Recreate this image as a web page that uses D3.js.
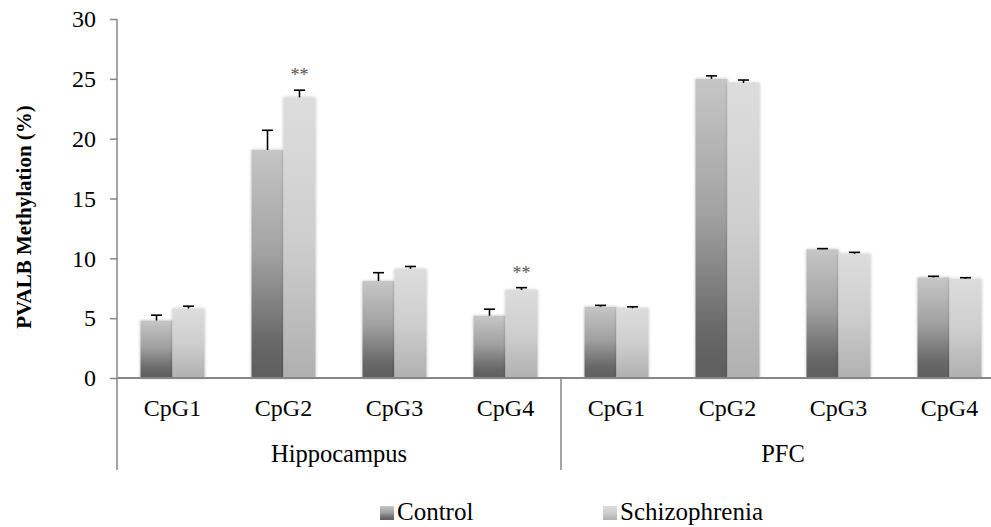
<!DOCTYPE html>
<html>
<head>
<meta charset="utf-8">
<script src="https://cdn.jsdelivr.net/npm/d3@7"></script>
<style>
  html, body { margin: 0; padding: 0; background: #fff; }
  svg { display: block; font-family: 'Liberation Serif', serif; }
  svg text { font-family: 'Liberation Serif', serif !important; fill: #000; }
</style>
</head>
<body>
<svg id="chart" width="991" height="527"></svg>
<script>
// ---- data ----
const groups = ["Hippocampus", "PFC"];
const sites = ["CpG1", "CpG2", "CpG3", "CpG4"];
const series = ["Control", "Schizophrenia"];
const controlValues = [4.8, 19.05, 8.1, 5.2, 5.95, 25.0, 10.75, 8.4];
const controlErrors = [0.45, 1.65, 0.7, 0.55, 0.12, 0.25, 0.06, 0.1];
const schizoValues = [5.8, 23.45, 9.12, 7.35, 5.83, 24.65, 10.38, 8.28];
const schizoErrors = [0.2, 0.6, 0.2, 0.2, 0.12, 0.25, 0.12, 0.1];
const schizoSig = ["", "**", "", "**", "", "", "", ""];
const yTicks = [0, 5, 10, 15, 20, 25, 30];
const yTitle = "PVALB Methylation (%)";

(function () {
// ---- layout ----
const svg = d3.select("#chart");
const mLeft = 117, mRight = 1005, mTop = 19, mBottom = 378;
const axisColor = "#868686";
const FONT = "'Liberation Serif', serif";

const cats = [];
groups.forEach(g => sites.forEach(s => cats.push({ group: g, site: s, id: g + "-" + s })));

const x0 = d3.scaleBand().domain(cats.map(c => c.id)).range([mLeft, mRight])
  .paddingInner(0.4234).paddingOuter(0.2117);
const x1 = d3.scaleBand().domain(series).range([0, x0.bandwidth()]);
const y = d3.scaleLinear().domain([0, 30]).range([mBottom, mTop]);

// defs: gradients + shadow
const defs = svg.append("defs");
function grad(id, stops) {
  const g = defs.append("linearGradient").attr("id", id)
    .attr("x1", 0).attr("y1", 0).attr("x2", 0).attr("y2", 1);
  stops.forEach(s => g.append("stop").attr("offset", s[0]).attr("stop-color", s[1]));
}
grad("gControl", [[0, "#c6c6c6"], [0.45, "#a2a2a2"], [0.85, "#676767"], [1, "#5e5e5e"]]);
grad("gSchizo", [[0, "#dddddd"], [0.5, "#cecece"], [1, "#b0b0b0"]]);
const f = defs.append("filter").attr("id", "shadow")
  .attr("x", "-20%").attr("y", "-5%").attr("width", "140%").attr("height", "110%");
f.append("feDropShadow").attr("dx", 0).attr("dy", 0).attr("stdDeviation", 1.6)
  .attr("flood-color", "#000").attr("flood-opacity", 0.28);

const fills = { "Control": "url(#gControl)", "Schizophrenia": "url(#gSchizo)" };

// rows
const rows = [];
cats.forEach((c, i) => {
  rows.push({ cat: c.id, s: "Control", v: controlValues[i], e: controlErrors[i], sig: "" });
  rows.push({ cat: c.id, s: "Schizophrenia", v: schizoValues[i], e: schizoErrors[i], sig: schizoSig[i] });
});

// bars
svg.append("g").selectAll("rect").data(rows).join("rect")
  .attr("x", d => x0(d.cat) + x1(d.s))
  .attr("y", d => y(d.v))
  .attr("width", x1.bandwidth())
  .attr("height", d => y(0) - y(d.v))
  .attr("fill", d => fills[d.s])
  .attr("filter", "url(#shadow)");

// error bars (upper only)
const eg = svg.append("g").attr("stroke", "#000").attr("stroke-width", 1.6);
rows.forEach(d => {
  const cx = x0(d.cat) + x1(d.s) + x1.bandwidth() / 2;
  eg.append("line").attr("x1", cx).attr("x2", cx).attr("y1", y(d.v)).attr("y2", y(d.v + d.e));
  eg.append("line").attr("x1", cx - 5.5).attr("x2", cx + 5.5).attr("y1", y(d.v + d.e)).attr("y2", y(d.v + d.e));
});

// significance marks
svg.append("g").selectAll("text").data(rows.filter(d => d.sig)).join("text")
  .attr("x", d => x0(d.cat) + x1(d.s) + x1.bandwidth() / 2)
  .attr("y", d => y(d.v + d.e) - 9)
  .attr("text-anchor", "middle")
  .attr("font-size", 18)
  .style("fill", "#555")
  .text(d => d.sig);

// y axis
const yAxis = svg.append("g").attr("transform", `translate(${mLeft},0)`)
  .call(d3.axisLeft(y).tickValues(yTicks).tickSize(7).tickPadding(14).tickFormat(d3.format("d")));
yAxis.attr("font-family", FONT).attr("font-size", 24);
yAxis.select(".domain").remove();
yAxis.selectAll("line").attr("stroke", axisColor).attr("stroke-width", 1.5);
yAxis.selectAll("text").attr("fill", "#000");
svg.append("line").attr("x1", mLeft).attr("x2", mLeft).attr("y1", y(30)).attr("y2", 470)
  .attr("stroke", axisColor).attr("stroke-width", 1.5);

// x axis baseline
svg.append("line").attr("x1", mLeft).attr("x2", mRight).attr("y1", y(0)).attr("y2", y(0))
  .attr("stroke", axisColor).attr("stroke-width", 2);

// category labels
svg.append("g").selectAll("text").data(cats).join("text")
  .attr("x", d => x0(d.id) + x0.bandwidth() / 2)
  .attr("y", mBottom + 37.5)
  .attr("text-anchor", "middle")
  .attr("font-size", 24)
  .text(d => d.site);

// group separators and labels
const step = x0.step();
groups.forEach((g, gi) => {
  const gx0 = mLeft + gi * sites.length * step;
  const gx1 = gx0 + sites.length * step;
  if (gi > 0) {
    svg.append("line").attr("x1", gx0).attr("x2", gx0).attr("y1", mBottom).attr("y2", 470)
      .attr("stroke", axisColor).attr("stroke-width", 1.5);
  }
  svg.append("text").attr("x", (gx0 + gx1) / 2).attr("y", 462)
    .attr("text-anchor", "middle").attr("font-size", 24.5).text(g);
});

// y title
svg.append("text")
  .attr("transform", `translate(31,217) rotate(-90)`)
  .attr("text-anchor", "middle")
  .attr("font-size", 21).attr("font-weight", "bold")
  .text(yTitle);

// legend
const legendX = [380, 603];
series.forEach((s, i) => {
  svg.append("rect").attr("x", legendX[i]).attr("y", 506).attr("width", 14).attr("height", 14)
    .attr("fill", fills[s]);
  svg.append("text").attr("x", legendX[i] + 17).attr("y", 520)
    .attr("font-size", 25).text(s);
});

svg.selectAll("text").attr("font-family", FONT);
})();
</script>
</body>
</html>
